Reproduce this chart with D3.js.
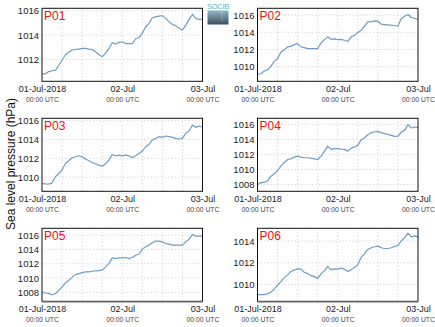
<!DOCTYPE html>
<html><head><meta charset="utf-8">
<script src="https://cdn.jsdelivr.net/npm/d3@7"></script>
<style>
html,body{margin:0;padding:0;background:#fff;}
svg{display:block;font-family:"Liberation Sans",Arial,sans-serif;}
</style></head>
<body>
<svg id="chart" width="435" height="327"></svg>
<script>
// hourly values, 01-Jul-2018 00:00 UTC to 03-Jul 00:00 UTC
const hours = d3.range(0, 49);
const panelNames = ["P01", "P02", "P03", "P04", "P05", "P06"];
const p01 = [1010.79,1010.8,1011.0,1011.07,1011.1,1011.5,1011.95,1012.36,1012.58,1012.77,1012.82,1012.85,1012.9,1012.9,1012.85,1012.82,1012.63,1012.4,1012.22,1012.5,1012.9,1013.37,1013.26,1013.4,1013.45,1013.3,1013.3,1013.3,1013.7,1013.8,1014.14,1014.68,1014.96,1015.42,1015.5,1015.56,1015.6,1015.37,1015.1,1014.88,1014.74,1014.58,1014.41,1014.82,1015.29,1015.7,1015.37,1015.29,1015.29];
const p02 = [1009.1,1009.18,1009.49,1009.64,1010.03,1010.62,1010.93,1011.71,1011.98,1012.3,1012.37,1012.57,1012.69,1012.3,1012.22,1012.1,1012.1,1012.1,1012.1,1012.76,1013.15,1013.47,1013.19,1013.23,1013.15,1013.19,1013.08,1012.96,1013.47,1013.66,1013.97,1014.25,1014.71,1015.22,1015.22,1015.34,1015.3,1014.95,1014.91,1014.87,1014.83,1014.8,1014.71,1015.61,1015.88,1016.08,1015.73,1015.61,1015.49];
const p03 = [1009.33,1009.29,1009.26,1009.4,1010.04,1010.39,1010.75,1011.46,1011.74,1012.06,1012.17,1012.27,1012.17,1011.92,1011.74,1011.56,1011.42,1011.28,1011.17,1011.42,1011.81,1012.41,1012.27,1012.34,1012.27,1012.34,1012.27,1012.06,1012.27,1012.52,1012.77,1013.23,1013.48,1013.94,1014.12,1014.3,1014.22,1014.37,1014.3,1014.22,1014.12,1014.05,1014.12,1014.65,1014.93,1015.54,1015.29,1015.43,1015.33];
const p04 = [1008.0,1008.22,1008.31,1008.49,1009.11,1009.42,1009.87,1010.44,1010.89,1011.33,1011.42,1011.64,1011.78,1011.64,1011.56,1011.56,1011.51,1011.42,1011.33,1011.78,1012.4,1013.11,1012.67,1012.76,1012.76,1012.71,1012.67,1012.44,1012.84,1012.98,1013.2,1013.96,1014.18,1014.62,1014.89,1014.98,1015.07,1014.89,1014.76,1014.67,1014.53,1014.4,1014.44,1014.98,1015.2,1015.96,1015.51,1015.64,1015.56];
const p05 = [1008.05,1007.91,1007.86,1007.67,1007.81,1008.28,1008.75,1009.31,1009.68,1010.1,1010.48,1010.62,1010.76,1010.85,1010.85,1010.95,1011.0,1011.04,1011.13,1011.56,1012.02,1012.82,1012.72,1012.82,1012.82,1012.87,1012.72,1012.87,1013.19,1013.33,1014.04,1014.36,1014.6,1014.92,1015.16,1015.16,1015.06,1014.83,1014.74,1014.6,1014.6,1014.6,1014.6,1015.06,1015.44,1016.09,1015.86,1015.86,1015.86];
const p06 = [1009.06,1009.06,1009.06,1009.13,1009.31,1009.56,1009.94,1010.25,1010.63,1010.88,1011.19,1011.34,1011.44,1011.41,1011.13,1011.0,1010.81,1010.72,1010.56,1010.97,1011.25,1011.66,1011.34,1011.44,1011.41,1011.5,1011.41,1011.19,1011.34,1011.59,1011.81,1012.5,1012.81,1013.22,1013.38,1013.47,1013.53,1013.38,1013.31,1013.31,1013.38,1013.5,1013.59,1014.0,1014.31,1014.72,1014.38,1014.47,1014.38];
const seriesValues = [p01, p02, p03, p04, p05, p06];
const yDomainMin = [1010.2, 1008.3, 1008.5, 1007.1, 1006.75, 1008.45];
const yDomainMax = [1016.2, 1016.8, 1016.25, 1016.8, 1016.95, 1015.17];
const yTickValues = [
  [1012, 1014, 1016],
  [1010, 1012, 1014, 1016],
  [1010, 1012, 1014, 1016],
  [1008, 1010, 1012, 1014, 1016],
  [1008, 1010, 1012, 1014, 1016],
  [1010, 1012, 1014]
];
const xTickHours = [0, 24, 48];
const xTickLabels = ["01-Jul-2018", "02-Jul", "03-Jul"];
const xTickSub = "00:00 UTC";
const xGridHours = d3.range(6, 48, 6);
const yTitle = "Sea level pressure (hPa)";

const svg = d3.select("#chart");
const W = 160.5, H = 73;
const colX = [42, 257.5];
const rowY = [8.3, 118.3, 228.3];

const x = d3.scaleLinear().domain([0, 48]).range([0, W]);

panelNames.forEach((name, i) => {
  const col = i % 2, row = Math.floor(i / 2);
  const g = svg.append("g").attr("transform", `translate(${colX[col]},${rowY[row]})`);
  const y = d3.scaleLinear().domain([yDomainMin[i], yDomainMax[i]]).range([H, 0]);

  // grid
  g.selectAll(".vg").data(xGridHours).enter().append("line")
    .attr("x1", d => x(d)).attr("x2", d => x(d)).attr("y1", 0).attr("y2", H)
    .attr("stroke", "#c8c8c8").attr("stroke-width", 0.8).attr("stroke-dasharray", "1.2,2.2");
  g.selectAll(".hg").data(yTickValues[i]).enter().append("line")
    .attr("x1", 0).attr("x2", W).attr("y1", d => y(d)).attr("y2", d => y(d))
    .attr("stroke", "#c8c8c8").attr("stroke-width", 0.8).attr("stroke-dasharray", "1.2,2.2");

  // line
  const line = d3.line().x((d, k) => x(hours[k])).y(d => y(d));
  g.append("path").datum(seriesValues[i]).attr("d", line)
    .attr("fill", "none").attr("stroke", "#6f9cc6").attr("stroke-width", 1.2)
    .attr("stroke-linejoin", "round");

  // frame
  g.append("rect").attr("x", 0).attr("y", 0).attr("width", W).attr("height", H)
    .attr("fill", "none").attr("stroke", "#111").attr("stroke-width", 1);
  if (row === 2) {
    g.append("line").attr("x1", 0).attr("x2", W).attr("y1", H + 0.5).attr("y2", H + 0.5)
      .attr("stroke", "#666").attr("stroke-width", 1.5);
  }

  // y axis
  const yAxis = d3.axisLeft(y).tickValues(yTickValues[i]).tickSize(0).tickPadding(3).tickFormat(d3.format("d"));
  const ya = g.append("g").call(yAxis);
  ya.select(".domain").remove();
  ya.selectAll("text").attr("font-size", 9.5).attr("fill", "#222")
    .attr("font-family", "'Liberation Sans',Arial,sans-serif");

  // x axis
  const xAxis = d3.axisBottom(x).tickValues(xTickHours).tickSize(0).tickPadding(4.5)
    .tickFormat((d, k) => xTickLabels[k]);
  const xa = g.append("g").attr("transform", `translate(0,${H})`).call(xAxis);
  xa.select(".domain").remove();
  xa.selectAll("text").attr("font-size", 9).attr("fill", "#222")
    .attr("font-family", "'Liberation Sans',Arial,sans-serif");
  xa.selectAll(".tick").append("text")
    .attr("y", 16).attr("dy", "0.71em").attr("text-anchor", "middle")
    .attr("font-size", 6.8).attr("fill", "#444")
    .attr("font-family", "'Liberation Sans',Arial,sans-serif")
    .text(xTickSub);

  // panel label
  g.append("text").attr("x", 2).attr("y", 11.5).attr("fill", "#ee1111")
    .attr("font-size", 12).text(name);
});

// y title
svg.append("text").attr("transform", "translate(14.5,164) rotate(-90)")
  .attr("text-anchor", "middle").attr("font-size", 12).attr("fill", "#111").text(yTitle);

// logo
const defs = svg.append("defs");
const grad = defs.append("linearGradient").attr("id", "lg").attr("x1", 0).attr("y1", 0).attr("x2", 0).attr("y2", 1);
grad.append("stop").attr("offset", "0").attr("stop-color", "#8fb8c4");
grad.append("stop").attr("offset", "1").attr("stop-color", "#3e4f5c");
svg.append("rect").attr("x", 207.5).attr("y", 10.5).attr("width", 21).attr("height", 14).attr("fill", "url(#lg)");
svg.append("line").attr("x1", 222).attr("x2", 222).attr("y1", 12).attr("y2", 22)
  .attr("stroke", "#fff").attr("stroke-width", 0.7).attr("stroke-dasharray", "1,1.5");
svg.append("text").attr("x", 218).attr("y", 9).attr("text-anchor", "middle")
  .attr("font-size", 7.5).attr("fill", "#4fb8d0").attr("letter-spacing", "-0.3").text("SOCIB");
</script>
</body></html>
